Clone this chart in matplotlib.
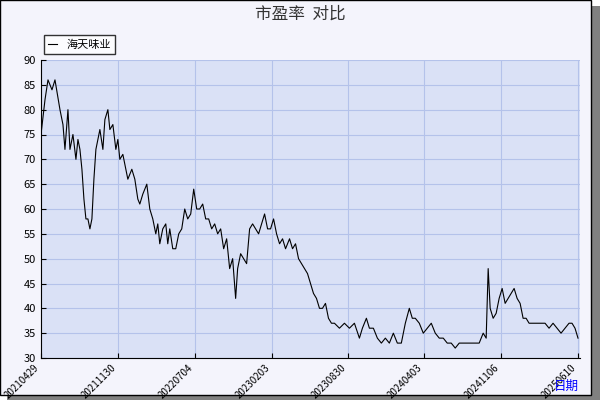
import matplotlib
matplotlib.use("Agg")
import matplotlib.pyplot as plt
from matplotlib.patches import Rectangle

plt.rcParams['font.family'] = ['Noto Sans CJK SC', 'DejaVu Sans']

points = [(0,75),(4,82),(7,86),(11,84),(14,86),(19,80),(22,77),(24,72),(27,80),(29,72),(32,75),(35,70),(37,74),(39,72),(41,68),(43,62),(45,58),(47,58),(49,56),(51,58),(53,66),(55,72),(57,74),(59,76),(62,72),(64,78),(67,80),(69,76),(72,77),(75,72),(77,74),(79,70),(82,71),(85,68),(87,66),(91,68),(94,66),(97,62),(99,61),(102,63),(106,65),(109,60),(112,58),(115,55),(117,57),(119,53),(122,56),(125,57),(127,53),(129,56),(132,52),(135,52),(138,55),(141,56),(144,60),(147,58),(150,59),(153,64),(156,60),(159,60),(162,61),(165,58),(168,58),(171,56),(174,57),(177,55),(180,56),(183,52),(186,54),(189,48),(192,50),(195,42),(197,48),(200,51),(203,50),(206,49),(209,56),(212,57),(215,56),(218,55),(221,57),(224,59),(227,56),(230,56),(233,58),(236,55),(239,53),(242,54),(245,52),(249,54),(252,52),(255,53),(258,50),(261,49),(264,48),(267,47),(270,45),(273,43),(276,42),(279,40),(282,40),(285,41),(288,38),(291,37),(294,37),(299,36),(304,37),(309,36),(314,37),(319,34),(322,36),(326,38),(329,36),(333,36),(337,34),(341,33),(345,34),(349,33),(353,35),(357,33),(361,33),(365,37),(369,40),(372,38),(375,38),(379,37),(383,35),(387,36),(391,37),(395,35),(399,34),(403,34),(407,33),(411,33),(415,32),(419,33),(423,33),(427,33),(431,33),(435,33),(439,33),(443,35),(446,34),(448,48),(450,40),(453,38),(456,39),(459,42),(462,44),(465,41),(468,42),(471,43),(474,44),(477,42),(480,41),(483,38),(486,38),(489,37),(493,37),(497,37),(501,37),(505,37),(509,36),(513,37),(517,36),(521,35),(525,36),(529,37),(532,37),(535,36),(538,34)]
day_idx = [p[0] for p in points]
pe = [p[1] for p in points]
tick_pos = [0,77,154,231,308,384,461,538]
tick_labels = ['20210429','20211130','20220704','20230203','20230830','20240403','20241106','20250610']

fig = plt.figure(figsize=(6,4), dpi=100)
fig.patch.set_facecolor('white')
fig.patches.append(Rectangle((0.012,0.0),0.988,0.985,transform=fig.transFigure,facecolor='#808080',edgecolor='none',zorder=-2))
fig.patches.append(Rectangle((0.0,0.012),0.985,0.988,transform=fig.transFigure,facecolor='#f4f4fc',edgecolor='black',lw=1,zorder=-1))
ax = fig.add_axes([41/600, 42/400, 539/600, 298/400])
ax.set_facecolor('#dae1f6')
ax.plot(day_idx, pe, color='black', lw=0.8, label='海天味业')
ax.set_xlim(0,540)
ax.set_ylim(30,90)
ax.set_yticks(range(30,91,5))
ax.set_xticks(tick_pos)
ax.set_xticklabels(tick_labels, rotation=45, ha='right', fontsize=7)
ax.tick_params(axis='y', labelsize=8, direction='in')
ax.tick_params(axis='x', direction='in')
ax.grid(True, color='#b4c2ea', lw=0.8)
for s in ['top','right']:
    ax.spines[s].set_visible(False)
fig.text(0.5,0.965,'市盈率  对比',ha='center',va='center',fontsize=12,color='#333333')
fig.text(0.965,0.035,'日期',ha='right',va='center',fontsize=9,color='blue')
leg = ax.legend(loc='lower left', bbox_to_anchor=(-0.005,1.0), fontsize=8, frameon=True, fancybox=False, handlelength=0.8, borderpad=0.4)
leg.get_frame().set_edgecolor('black')
fig.savefig('out.png', dpi=100, facecolor=fig.get_facecolor())
